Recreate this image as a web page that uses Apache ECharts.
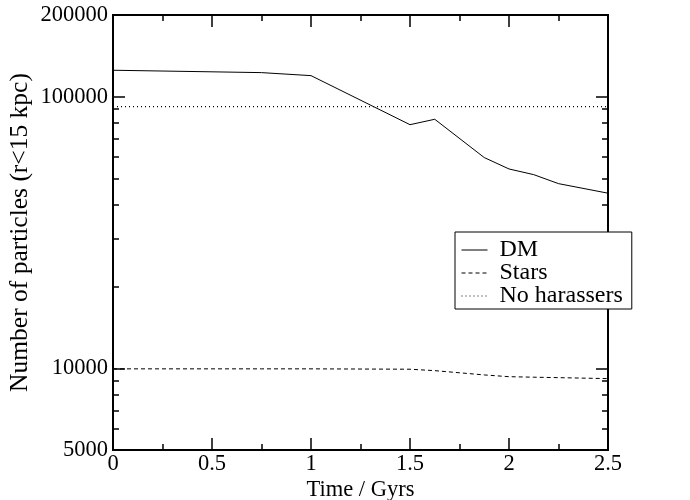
<!DOCTYPE html>
<html><head><meta charset="utf-8">
<script src="https://cdn.jsdelivr.net/npm/echarts@6/dist/echarts.min.js"></script>
<style>html,body{margin:0;padding:0;background:#fff}#c{width:690px;height:500px}</style>
</head><body><div id="c"></div>
<script>
const timeGyr = [0, 0.75, 1, 1.5, 1.625, 1.875, 2, 2.125, 2.25, 2.5];
const dmCount = [125200, 122700, 119600, 78900, 82600, 59700, 54200, 51650, 47860, 44130];
const starCount = [9950, 9950, 9950, 9920, 9800, 9450, 9310, 9270, 9235, 9160];
const noHarTime = [0, 2.5];
const noHarCount = [92000, 92000];
const yMajor = [5000, 10000, 100000, 200000];
const yMinor = [6000, 7000, 8000, 9000, 20000, 30000, 40000, 50000, 60000, 70000, 80000, 90000];

const F = 'Liberation Serif';
const FS = 22.5;
const pair = (xs, ys) => xs.map((x, i) => [x, ys[i]]);
const chart = echarts.init(document.getElementById('c'));
const xBase = (pos, labels) => ({
  type: 'value', position: pos, min: 0, max: 2.5, interval: 0.5,
  axisLine: {show: true, onZero: false, lineStyle: {color: '#000', width: 2}},
  axisTick: {show: true, inside: true, length: 12, lineStyle: {color: '#000', width: 1.5}},
  minorTick: {show: true, splitNumber: 2, length: 6, lineStyle: {color: '#000', width: 1.5}},
  splitLine: {show: false},
  axisLabel: {show: labels, color: '#000', fontFamily: F, fontSize: FS, margin: 3,
    formatter: v => String(v)},
  name: labels ? 'Time / Gyrs' : '', nameLocation: 'middle', nameGap: 29, nameMoveOverlap: false,
  nameTextStyle: {color: '#000', fontFamily: F, fontSize: FS}
});
const yBase = (pos, vals, len, labels) => ({
  type: 'log', logBase: 10, position: pos, min: 5000, max: 200000,
  axisLine: {show: true, onZero: false, lineStyle: {color: '#000', width: 2}},
  axisTick: {show: true, inside: true, length: len, customValues: vals, lineStyle: {color: '#000', width: 1.5}},
  splitLine: {show: false},
  axisLabel: {show: labels, customValues: yMajor, color: '#000', fontFamily: F, fontSize: FS, margin: 5,
    formatter: v => String(Math.round(v))},
  name: labels ? 'Number of particles (r<15 kpc)' : '', nameLocation: 'middle', nameGap: 80, nameMoveOverlap: false,
  nameTextStyle: {color: '#000', fontFamily: F, fontSize: 25.5}
});
chart.setOption({
  animation: false,
  backgroundColor: '#fff',
  grid: {left: 113, right: 82, top: 15, bottom: 50, containLabel: false, outerBoundsMode: 'none'},
  xAxis: [xBase('bottom', true), xBase('top', false)],
  yAxis: [yBase('left', yMajor, 12, true), yBase('left', yMinor, 6, false),
          yBase('right', yMajor, 12, false), yBase('right', yMinor, 6, false)],
  legend: {
    left: 455, top: 232, orient: 'vertical', padding: [6, 9, 1, 6], itemGap: -1,
    itemWidth: 26, itemHeight: 14,
    borderColor: '#000', borderWidth: 1, backgroundColor: '#fff', borderRadius: 0,
    itemStyle: {color: 'transparent', borderWidth: 0, opacity: 0},
    lineStyle: {width: 1},
    textStyle: {color: '#000', fontFamily: F, fontSize: 24, lineHeight: 20, padding: [0, 0, 0, 7]},
    data: ['DM', 'Stars', 'No harassers']
  },
  series: [
    {name: 'DM', type: 'line', data: pair(timeGyr, dmCount), symbol: 'none',
     lineStyle: {color: '#000', width: 1, type: 'solid'}, itemStyle: {color: '#000'}},
    {name: 'Stars', type: 'line', data: pair(timeGyr, starCount), symbol: 'none',
     lineStyle: {color: '#000', width: 1, type: [4, 3]}, itemStyle: {color: '#000'}},
    {name: 'No harassers', type: 'line', data: pair(noHarTime, noHarCount), symbol: 'none',
     lineStyle: {color: '#000', width: 1.2, type: [1, 3]}, itemStyle: {color: '#000'}}
  ]
});
</script></body></html>
